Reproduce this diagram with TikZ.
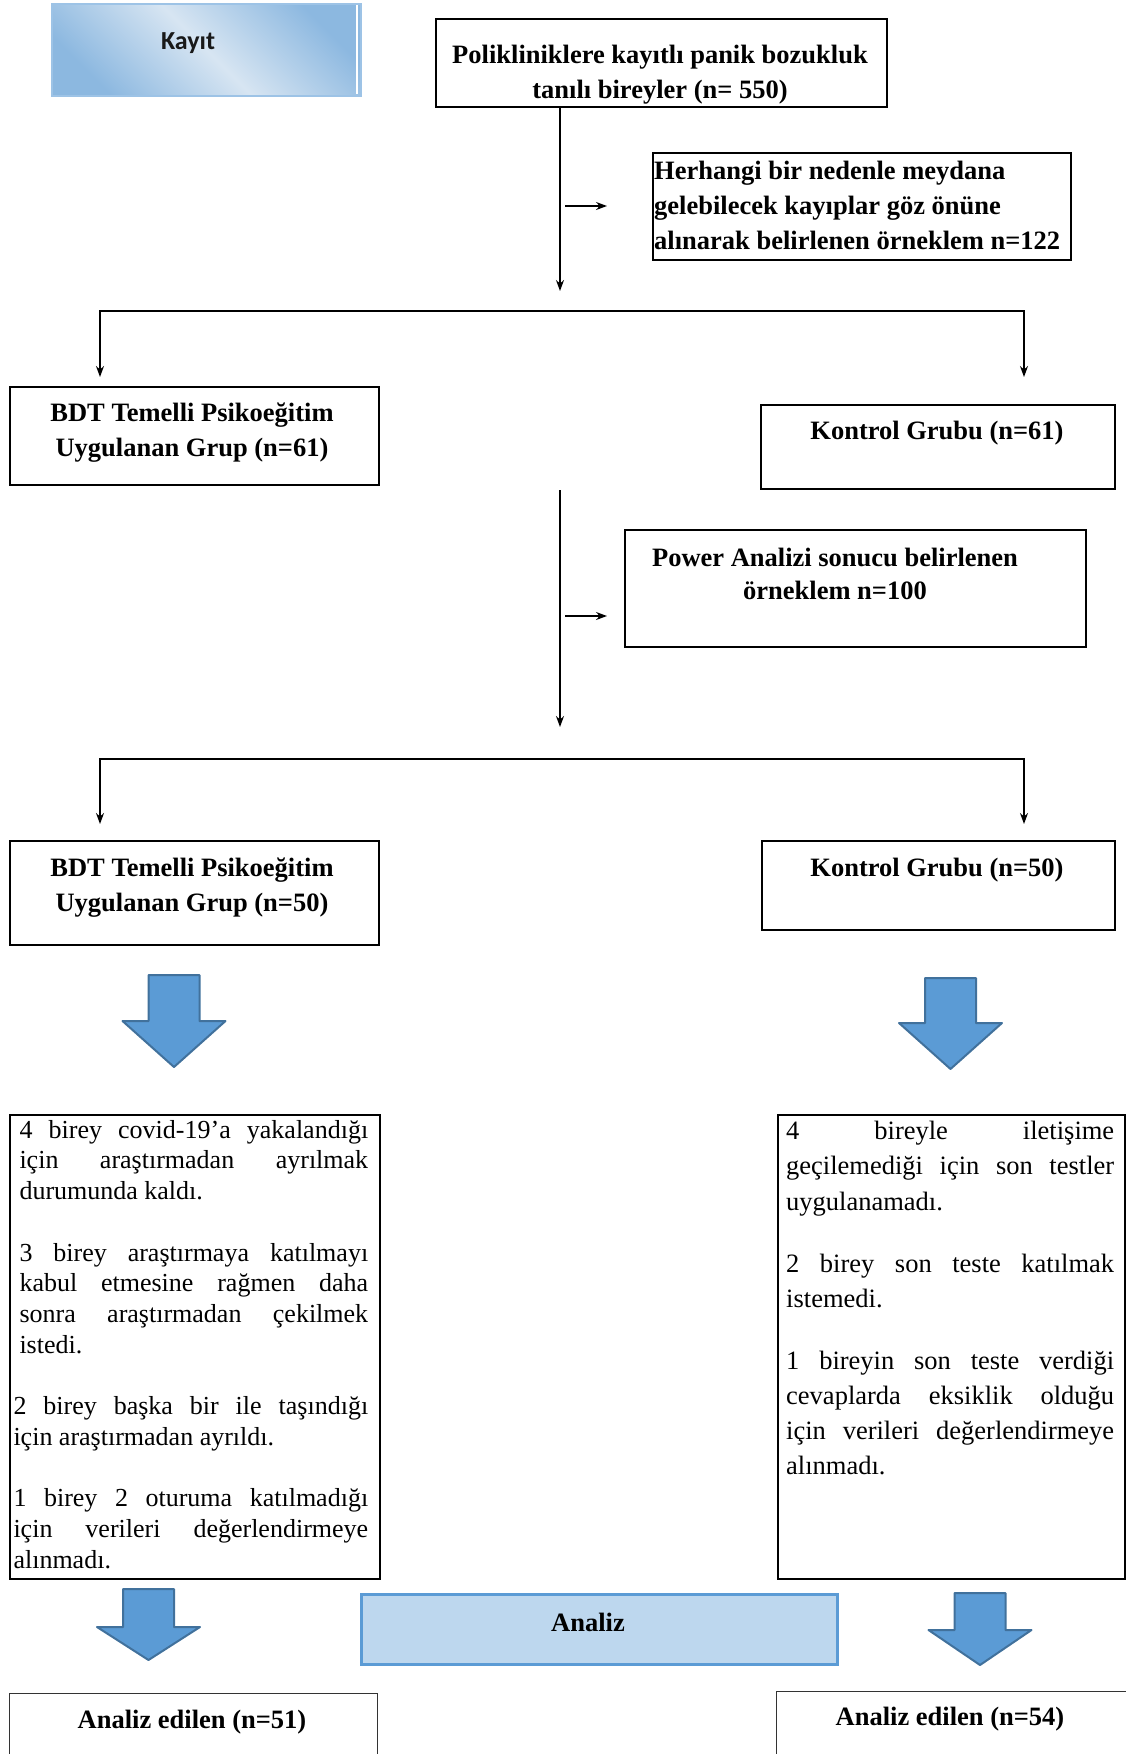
\documentclass[tikz,border=0pt]{standalone}
\usepackage{fontspec}
\setmainfont{Liberation Serif}
\newfontfamily\calibrifont{Carlito}
\usetikzlibrary{arrows.meta,positioning,calc}

\hyphenpenalty=10000
\exhyphenpenalty=10000
\tolerance=10000

\definecolor{arrowfill}{HTML}{5B9BD5}
\definecolor{arrowedge}{HTML}{41719C}
\definecolor{analizfill}{HTML}{BDD7EE}
\definecolor{kayitdark}{HTML}{8CB8E0}
\definecolor{kayitlight}{HTML}{D7E5F2}
\definecolor{kayitedge}{HTML}{9DC3E6}

\tikzset{
  frame/.style={draw=black, line width=2pt, inner sep=0pt, anchor=north west},
  thinframe/.style={draw=black!80, line width=1pt, inner sep=0pt, anchor=north west},
  head/.style={font=\bfseries\fontsize{26.5}{35}\selectfont, align=center, inner sep=0pt},
  leftbody/.style={font=\fontsize{26}{30.7}\selectfont, align=justify, inner sep=0pt, anchor=north west},
  rightbody/.style={font=\fontsize{26.5}{35.2}\selectfont, align=justify, inner sep=0pt, anchor=north west},
  link/.style={line width=1.3pt, -{Stealth[length=11pt,width=8pt]}},
  fork/.style={line width=1.3pt, {Stealth[length=11pt,width=8pt]}-{Stealth[length=11pt,width=8pt]}},
}

% blue block arrow: centre x, top, neck, tip
\newcommand{\fatarrow}[4]{%
  \draw[fill=arrowfill, draw=arrowedge, line width=2pt, line join=round]
    (#1-25.5,#2) -- (#1+25.5,#2) -- (#1+25.5,#3) -- (#1+51.5,#3) -- (#1,#4)
    -- (#1-51.5,#3) -- (#1-25.5,#3) -- cycle;}

\begin{document}
\begin{tikzpicture}[x=1pt, y=-1pt]
  \useasboundingbox (0,0) rectangle (1126,1754);
  \clip (0,0) rectangle (1126,1754);

  % Kayit
  \node[draw=kayitedge, line width=2pt, inner sep=0pt, anchor=north west,
        top color=kayitdark, bottom color=kayitdark, middle color=kayitlight,
        shading angle=-45, minimum width=309, minimum height=92] (kayit) at (51,3) {};
  \draw[white, line width=2pt] (356.5,5) -- (356.5,94);
  \node[font=\calibrifont\bfseries\fontsize{26}{30}\selectfont, inner sep=0pt, text=black!90] (kayittext) at (188,43.5) {Kayıt};

  % first stage
  \node[frame, minimum width=451, minimum height=88] (reg) at (435,18) {};
  \node[head] (regtext) at (660,75) {Polikliniklere kayıtlı panik bozukluk\\tanılı bireyler (n= 550)};

  \node[frame, minimum width=418, minimum height=107] (note1) at (652,152) {};
  \node[head, align=left, anchor=west] (note1text) at (654,205)
    {Herhangi bir nedenle meydana\\gelebilecek kayıplar göz önüne\\alınarak belirlenen örneklem n=122};

  \coordinate (split1) at (560,291);
  \draw[link] (reg.south -| split1) -- (split1);
  \coordinate (note1tail) at (565,206);
  \coordinate (note1head) at (607,206);
  \draw[link] (note1tail) -- (note1head);

  \coordinate (fork1) at (560,311);
  \coordinate (bdt1in) at (100,377);
  \coordinate (kon1in) at (1024,377);
  \draw[fork] (bdt1in) -- (bdt1in |- fork1) -- (kon1in |- fork1) -- (kon1in);

  \node[frame, minimum width=369, minimum height=98] (bdt1) at (9,386) {};
  \node[head] (bdt1text) at (192,433) {BDT Temelli Psikoeğitim\\Uygulanan Grup (n=61)};
  \node[frame, minimum width=354, minimum height=84] (kon1) at (760,404) {};
  \node[head] (kon1text) at (937,433) {Kontrol Grubu (n=61)};

  % second stage
  \coordinate (split2) at (560,727);
  \draw[link] (kon1.south -| split2) -- (split2);
  \coordinate (note2tail) at (565,616);
  \coordinate (note2head) at (607,616);
  \draw[link] (note2tail) -- (note2head);

  \node[frame, minimum width=461, minimum height=117] (note2) at (624,529) {};
  \node[head, font=\bfseries\fontsize{26.5}{33}\selectfont] (note2text) at (835,574)
    {Power Analizi sonucu belirlenen\\örneklem n=100};

  \coordinate (fork2) at (560,759);
  \coordinate (bdt2in) at (100,824);
  \coordinate (kon2in) at (1024,824);
  \draw[fork] (bdt2in) -- (bdt2in |- fork2) -- (kon2in |- fork2) -- (kon2in);

  \node[frame, minimum width=369, minimum height=104] (bdt2) at (9,840) {};
  \node[head] (bdt2text) at (192,888) {BDT Temelli Psikoeğitim\\Uygulanan Grup (n=50)};
  \node[frame, minimum width=353, minimum height=89] (kon2) at (761,840) {};
  \node[head] (kon2text) at (937,870.5) {Kontrol Grubu (n=50)};

  \fatarrow{174}{975}{1021}{1067}
  \fatarrow{950.5}{978}{1023}{1069}

  % losses
  \node[frame, minimum width=370, minimum height=464] (lossL) at (9,1114) {};
  \node[leftbody, text width=354.7] (lossLtext) at (13.3,1120) {%
    {\leftskip=6pt 4 birey covid-19’a yakalandığı\linebreak için araştırmadan ayrılmak\linebreak durumunda kaldı.\par}
    \vspace{30.7pt}
    {\leftskip=6pt 3 birey araştırmaya katılmayı\linebreak kabul etmesine rağmen daha\linebreak sonra araştırmadan çekilmek\linebreak istedi.\par}
    \vspace{30.7pt}
    2 birey başka bir ile taşındığı\linebreak için araştırmadan ayrıldı.\par
    \vspace{30.7pt}
    1 birey 2 oturuma katılmadığı\linebreak için verileri değerlendirmeye\linebreak alınmadı.\par};

  \node[frame, minimum width=347, minimum height=464] (lossR) at (777,1114) {};
  \node[rightbody, text width=328] (lossRtext) at (786,1121) {%
    4 bireyle iletişime\linebreak geçilemediği için son testler\linebreak uygulanamadı.\par
    \vspace{26.8pt}
    2 birey son teste katılmak\linebreak istemedi.\par
    \vspace{26.8pt}
    1 bireyin son teste verdiği\linebreak cevaplarda eksiklik olduğu\linebreak için verileri değerlendirmeye\linebreak alınmadı.\par};

  % analysis
  \fatarrow{148.5}{1589}{1627}{1660}
  \fatarrow{980}{1593}{1630}{1665}

  \node[draw=arrowfill, fill=analizfill, line width=2.5pt, inner sep=0pt, anchor=north west,
        minimum width=476, minimum height=70] (analiz) at (360,1593) {};
  \node[head] (analiztext) at (588,1622.5) {Analiz};

  \node[thinframe, minimum width=368, minimum height=100] (donel) at (9,1693) {};
  \node[head] (doneltext) at (192,1722.5) {Analiz edilen (n=51)};
  \node[thinframe, minimum width=400, minimum height=100] (doner) at (776,1691) {};
  \node[head] (donertext) at (950,1719.5) {Analiz edilen (n=54)};
\end{tikzpicture}
\end{document}
